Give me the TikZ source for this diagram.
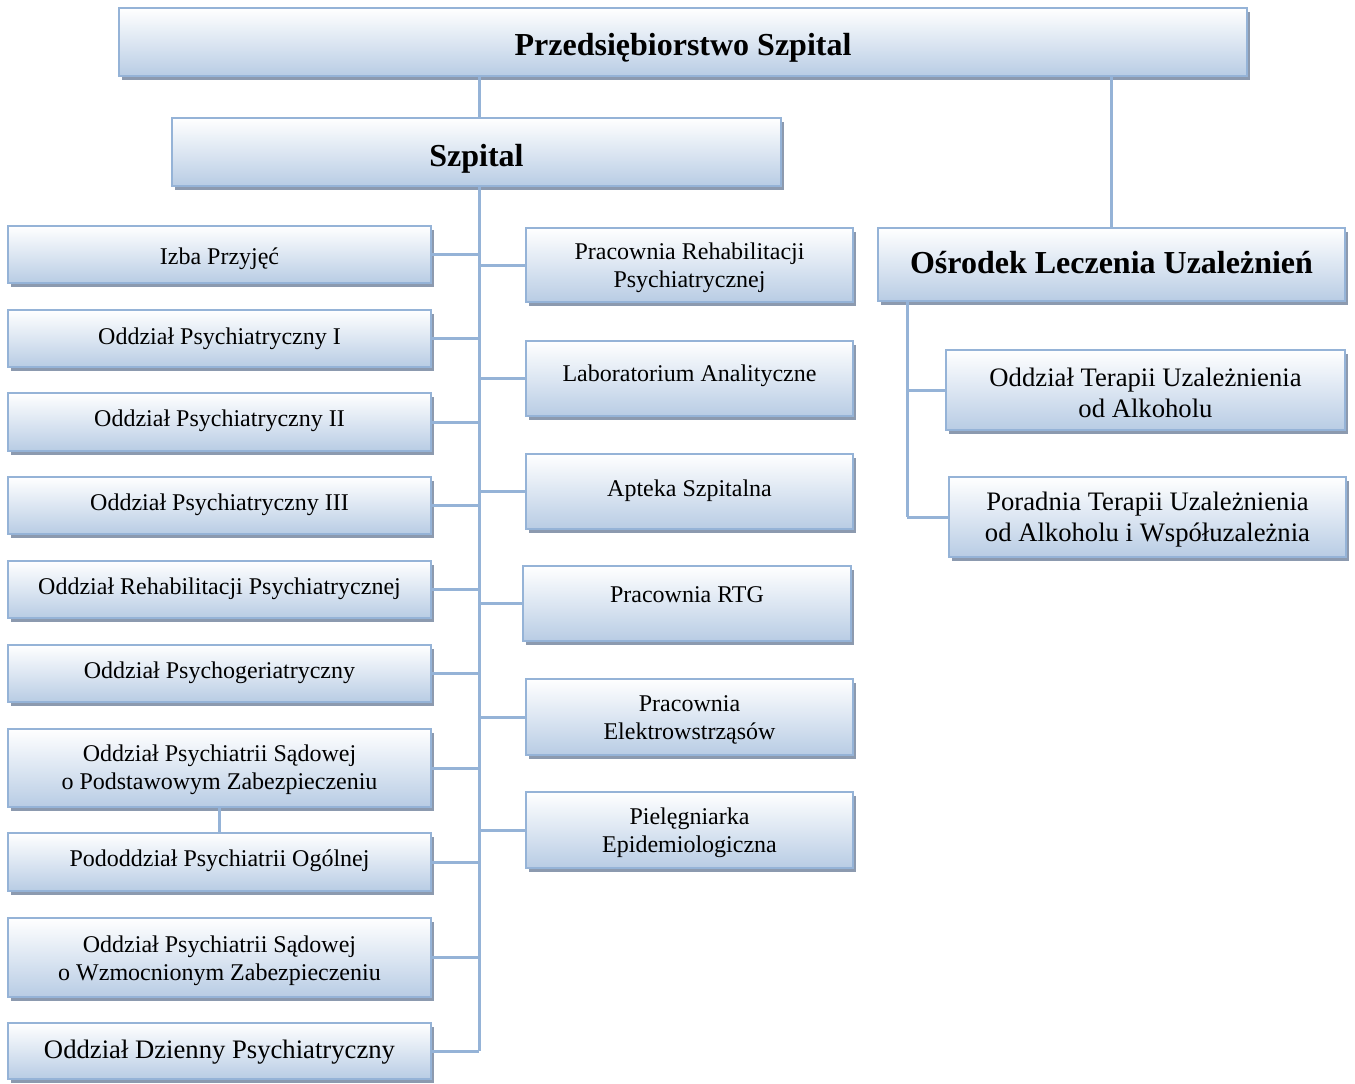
\documentclass[tikz,border=0pt]{standalone}
\usepackage{fontspec}
\setmainfont{Liberation Serif}
\usetikzlibrary{shadows}
\definecolor{bordc}{HTML}{95B3D7}
\definecolor{boxbot}{HTML}{B8CCE4}
\definecolor{boxmid}{HTML}{DCE6F2}
\definecolor{shadc}{HTML}{8C9AAF}
\tikzset{
  box/.style={draw=bordc, line width=2pt, top color=white, bottom color=boxbot, middle color=boxmid,
    inner sep=0pt, outer sep=0pt, anchor=north west,
    drop shadow={shadow xshift=2.25pt, shadow yshift=-3pt, fill=shadc, opacity=1}},
  txt/.style={inner sep=0pt, align=center, font=\fontsize{18}{21}\selectfont},
  txtl/.style={inner sep=0pt, align=center, font=\fontsize{20}{23.3}\selectfont},
  txtb/.style={inner sep=0pt, align=center, font=\fontsize{24}{28}\selectfont\bfseries},
  conn/.style={draw=bordc, line width=2.25pt}
}
% #1 name, #2 x1, #3 y1, #4 x2, #5 y2, #6 text style, #7 dy, #8 text
\newcommand\bx[8]{%
  \node[box, minimum width={(#4-(#2))*0.75pt}, minimum height={(#5-(#3))*0.75pt}] (#1) at (#2,#3) {};
  \node[#6, yshift={-(#7+3)*0.75pt}] (#1-t) at (#1.center) {#8};}
\begin{document}
\begin{tikzpicture}[x=0.75pt, y=-0.75pt]
\useasboundingbox (0,0) rectangle (1355,1084);
\coordinate (trunk) at (479,186);
\coordinate (otr) at (907,301);
\bx{top}{119}{8}{1247}{76}{txtb}{3}{Przedsiębiorstwo Szpital}
\bx{szp}{172}{118}{781}{186}{txtb}{4}{Szpital}
\bx{osr}{878}{228}{1345}{301}{txtb}{-5}{Ośrodek Leczenia Uzależnień}
\bx{ter}{946}{350}{1345}{430}{txtl}{0}{Oddział Terapii Uzależnienia\\od Alkoholu}
\bx{por}{949}{477}{1346}{557}{txtl}{0}{Poradnia Terapii Uzależnienia\\od Alkoholu i Współuzależnia}
% left column
\bx{izba}{8}{226}{431}{283}{txt}{1}{Izba Przyjęć}
\bx{o1}{8}{310}{431}{367}{txt}{-3}{Oddział Psychiatryczny I}
\bx{o2}{8}{393}{431}{451}{txt}{-4}{Oddział Psychiatryczny II}
\bx{o3}{8}{477}{431}{534}{txt}{-4}{Oddział Psychiatryczny III}
\bx{reh}{8}{561}{431}{618}{txt}{-4}{Oddział Rehabilitacji Psychiatrycznej}
\bx{pger}{8}{645}{431}{702}{txt}{-4}{Oddział Psychogeriatryczny}
\bx{sp}{8}{729}{431}{807}{txt}{-1}{Oddział Psychiatrii Sądowej\\o Podstawowym Zabezpieczeniu}
\bx{pod}{8}{833}{431}{891}{txt}{-4}{Pododdział Psychiatrii Ogólnej}
\bx{wz}{8}{918}{431}{997}{txt}{0}{Oddział Psychiatrii Sądowej\\o Wzmocnionym Zabezpieczeniu}
\bx{dz}{8}{1023}{431}{1079}{txtl}{-2}{Oddział Dzienny Psychiatryczny}
% right column
\bx{prh}{526}{228}{853}{302}{txt}{0}{Pracownia Rehabilitacji\\Psychiatrycznej}
\bx{lab}{526}{341}{853}{416}{txt}{-6}{Laboratorium Analityczne}
\bx{apt}{526}{454}{853}{529}{txt}{-4}{Apteka Szpitalna}
\bx{rtg}{523}{566}{851}{641}{txt}{-12}{Pracownia RTG}
\bx{ele}{526}{679}{853}{755}{txt}{0}{Pracownia\\Elektrowstrząsów}
\bx{pie}{526}{792}{853}{868}{txt}{0}{Pielęgniarka\\Epidemiologiczna}
% connectors
\draw[conn] (top.south -| trunk) -- (szp.north -| trunk);
\draw[conn] (top.south -| osr.north) -- (osr.north);
\draw[conn] (szp.south -| trunk) -- (trunk |- dz.east);
\foreach \n in {izba,o1,o2,o3,reh,pger,sp,pod,wz,dz}
  \draw[conn] (\n.east) -- (\n.east -| trunk);
\foreach \n in {prh,lab,apt,rtg,ele,pie}
  \draw[conn] (\n.west) -- (\n.west -| trunk);
\draw[conn] (sp.south) -- (pod.north);
\draw[conn] (osr.south -| otr) -- (otr |- por.west);
\draw[conn] (ter.west) -- (ter.west -| otr);
\draw[conn] (por.west) -- (por.west -| otr);
\end{tikzpicture}
\end{document}
